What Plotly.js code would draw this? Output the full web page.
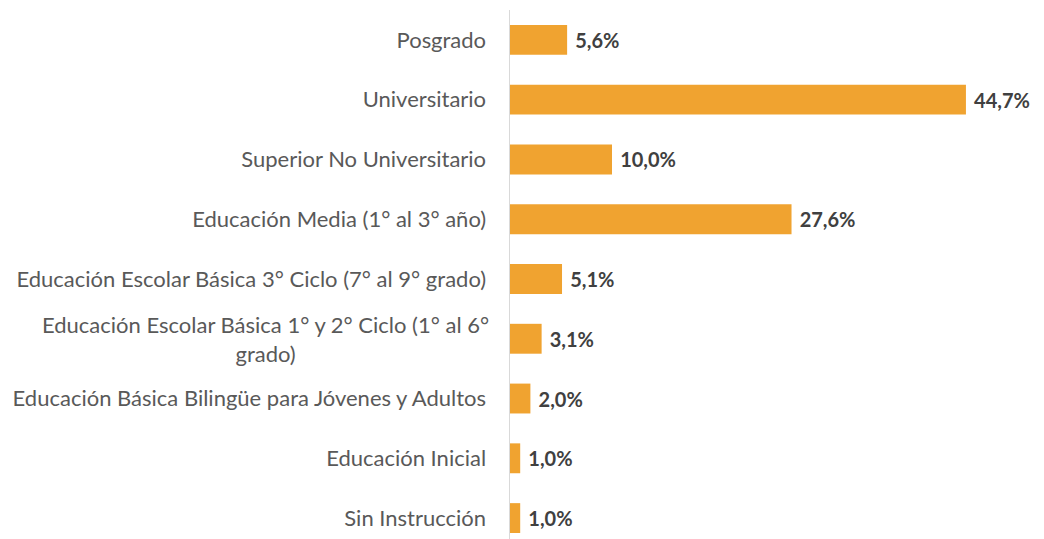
<!DOCTYPE html>
<html>
<head>
<meta charset="utf-8">
<script src="https://cdn.plot.ly/plotly-3.0.1.min.js"></script>
<style>html,body{margin:0;padding:0;background:#fff;}#chart{width:1044px;height:539px;}</style>
</head>
<body>
<div id="chart"></div>
<script>
// Categories bottom to top
const categories = [
  "Sin Instrucción",
  "Educación Inicial",
  "Educación Básica Bilingüe para Jóvenes y Adultos",
  "Educación Escolar Básica 1° y 2° Ciclo (1° al 6° grado)",
  "Educación Escolar Básica 3° Ciclo (7° al 9° grado)",
  "Educación Media (1° al 3° año)",
  "Superior No Universitario",
  "Universitario",
  "Posgrado"
];
const tickLabels = [
  "Sin Instrucción",
  "Educación Inicial",
  "Educación Básica Bilingüe para Jóvenes y Adultos",
  "",
  "Educación Escolar Básica 3° Ciclo (7° al 9° grado)",
  "Educación Media (1° al 3° año)",
  "Superior No Universitario",
  "Universitario",
  "Posgrado"
];
const wrappedLabel = "Educación Escolar Básica 1° y 2° Ciclo (1° al 6°<br>grado)";
const wrappedIndex = 3;
const values = [1.0, 1.0, 2.0, 3.1, 5.1, 27.6, 10.0, 44.7, 5.6];

const FONT = "Lato, 'Open Sans', sans-serif";

const trace = {
  type: "bar",
  orientation: "h",
  x: values,
  y: categories,
  marker: {color: "#F0A330"},
  width: 0.5,
  text: values.map(v => "\u00a0<b>" + v.toFixed(1).replace(".", ",") + "%</b>"),
  textposition: "outside",
  cliponaxis: false,
  textfont: {family: FONT, size: 20, color: "#404040"},
  hoverinfo: "none"
};

const layout = {
  width: 1044,
  height: 539,
  margin: {l: 510, r: 24, t: 10, b: 0, pad: 0},
  paper_bgcolor: "#ffffff",
  plot_bgcolor: "#ffffff",
  showlegend: false,
  font: {family: FONT, size: 22, color: "#595959"},
  xaxis: {
    range: [0, 50],
    showgrid: false,
    zeroline: false,
    showticklabels: false,
    showline: false,
    ticks: ""
  },
  yaxis: {
    type: "category",
    categoryorder: "array",
    categoryarray: categories,
    tickvals: categories,
    ticktext: tickLabels,
    range: [-0.35, 8.5],
    showgrid: false,
    zeroline: false,
    showline: true,
    linecolor: "#D9D9D9",
    linewidth: 1.5,
    ticks: "",
    ticklabelstandoff: 18,
    tickfont: {family: FONT, size: 22, color: "#595959"}
  },
  annotations: [{
    xref: "paper", yref: "y",
    x: 0, y: categories[wrappedIndex],
    xanchor: "right", yanchor: "middle",
    xshift: -19,
    text: wrappedLabel,
    align: "center",
    showarrow: false,
    font: {family: FONT, size: 22, color: "#595959"}
  }]
};

Plotly.newPlot("chart", [trace], layout, {displayModeBar: false, staticPlot: true});
</script>
</body>
</html>
